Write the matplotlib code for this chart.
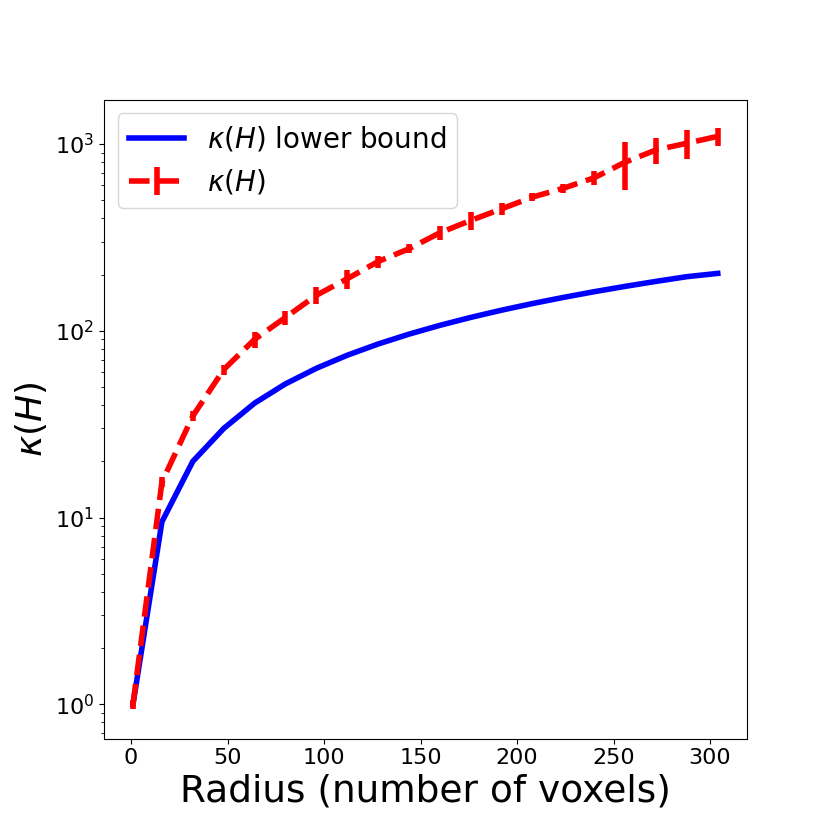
import numpy as np
import matplotlib
matplotlib.use('Agg')
import matplotlib.pyplot as plt

radius = [1, 16, 32, 48, 64, 80, 96, 112, 128, 144, 160, 176, 192, 208, 224, 240, 256, 272, 288, 304]
kappa_lower = [1, 9.5, 20, 30, 41, 52, 63, 74, 85, 96, 107, 118, 129, 140, 151, 162, 173, 184, 195, 203]
kappa = [1, 15.5, 35, 62, 90, 118, 155, 190, 235, 275, 335, 390, 450, 520, 580, 660, 800, 930, 1010, 1100]
kappa_err = [0.05, 1, 2, 4, 9, 10, 16, 22, 18, 15, 30, 45, 35, 25, 30, 60, 230, 150, 180, 120]

fig = plt.figure(figsize=(8.3, 8.3), dpi=100)
ax = fig.add_subplot(111)
ax.plot(radius, kappa_lower, color='blue', lw=4, label=r'$\kappa(H)$ lower bound')
ax.errorbar(radius, kappa, yerr=kappa_err, color='red', lw=4, ls='--', elinewidth=4,
            label=r'$\kappa(H)$')
ax.set_yscale('log')
ax.set_ylim(0.655, 1730)
ax.set_xlabel('Radius (number of voxels)', fontsize=27)
ax.set_ylabel(r'$\kappa(H)$', fontsize=26)
ax.tick_params(labelsize=16)
ax.legend(fontsize=20, loc='upper left')

fig.savefig('out.png')
